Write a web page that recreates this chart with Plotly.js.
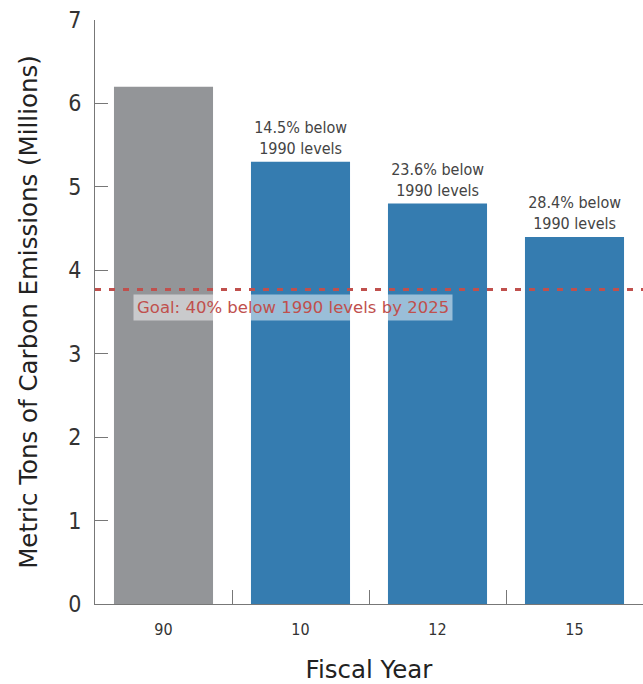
<!DOCTYPE html>
<html><head><meta charset="utf-8">
<script src="https://cdn.plot.ly/plotly-3.0.1.min.js"></script>
<style>
html,body{margin:0;padding:0;background:#fff}#chart{width:643px;height:684px}
#chart .xtick text, #chart .ytick text, #chart .annotation.cond text { font-stretch: condensed !important; }
</style>
</head><body><div id="chart"></div>
<script>
const categories = ["90", "10", "12", "15"];
const emissions = [6.2, 5.3, 4.8, 4.4];
const barColors = ["#939598", "#357cb0", "#357cb0", "#357cb0"];
const barNotes = ["", "14.5% below<br>1990 levels", "23.6% below<br>1990 levels", "28.4% below<br>1990 levels"];
const goalValue = 3.77;
const goalText = "Goal: 40% below 1990 levels by 2025";

const condensed = "'DejaVu Sans', sans-serif";

const annotations = [];
categories.forEach((c, i) => {
  if (barNotes[i]) annotations.push({
    x: i, y: emissions[i], xref: "x", yref: "y", text: barNotes[i],
    showarrow: false, yanchor: "bottom", yshift: 2,
    font: {family: condensed, size: 16, color: "#444"}
  });
});
annotations.push({
  x: 0, y: goalValue, xref: "x", yref: "y", text: goalText,
  xanchor: "left", yanchor: "top", xshift: -31, yshift: -5,
  showarrow: false, bgcolor: "rgba(255,255,255,0.5)",
  borderpad: 3,
  font: {family: "'DejaVu Sans', sans-serif", size: 16.5, color: "#c0504d"}
});

const data = [{
  type: "bar", x: categories, y: emissions,
  marker: {color: barColors}, hoverinfo: "none"
}];

const layout = {
  width: 643, height: 684,
  margin: {l: 95, r: 0, t: 20, b: 80},
  paper_bgcolor: "#fff", plot_bgcolor: "#fff",
  bargap: 0.277,
  showlegend: false,
  xaxis: {
    type: "category", range: [-0.5, 3.5],
    tickson: "boundaries", ticks: "inside", ticklen: 14, tickcolor: "#777", tickwidth: 1,
    showline: true, linecolor: "#777", linewidth: 1,
    showgrid: false, zeroline: false,
    tickfont: {family: condensed, size: 16, color: "#333"},
    ticklabelstandoff: 11,
    title: {text: "Fiscal Year", font: {family: "'DejaVu Sans', sans-serif", size: 24.5, color: "#222"}, standoff: 26}
  },
  yaxis: {
    range: [0, 7], dtick: 1, tick0: 0,
    ticks: "inside", ticklen: 13, tickcolor: "#777", tickwidth: 1,
    showline: true, linecolor: "#777", linewidth: 1,
    showgrid: false, zeroline: false,
    tickfont: {family: condensed, size: 23, color: "#333"},
    ticklabelstandoff: 8,
    title: {text: "Metric Tons of Carbon Emissions (Millions)", font: {family: "'DejaVu Sans', sans-serif", size: 24.5, color: "#222"}, standoff: 22}
  },
  shapes: [{
    type: "line", xref: "paper", x0: 0, x1: 1, yref: "y", y0: goalValue, y1: goalValue,
    line: {color: "#c0504d", width: 3, dash: "6px,8px"}
  }],
  annotations: annotations
};

Plotly.newPlot("chart", data, layout, {displayModeBar: false, staticPlot: true}).then(gd => {
  gd.querySelectorAll(".annotation").forEach((a, i) => { if (i < 3) a.classList.add("cond"); });
});
</script></body></html>
